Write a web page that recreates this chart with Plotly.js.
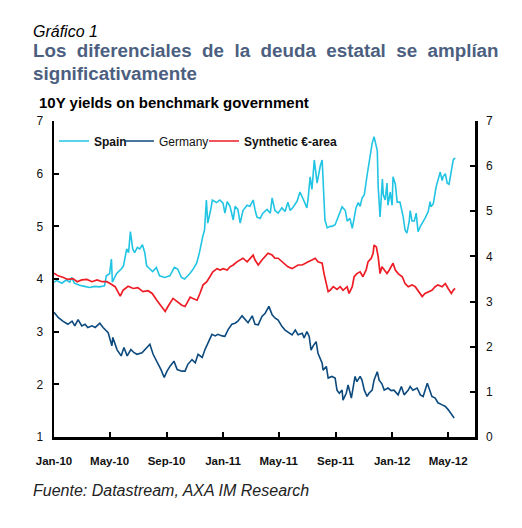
<!DOCTYPE html>
<html>
<head>
<meta charset="utf-8">
<script src="https://cdn.plot.ly/plotly-3.0.1.min.js"></script>
<style>
  html, body { margin: 0; padding: 0; background: #fff; }
  #chart { width: 522px; height: 528px; }
</style>
</head>
<body>
<div id="chart"></div>
<script>
// ---------------- DATA ----------------
const spainDates = [
  "2010-01-01","2010-01-07","2010-01-18","2010-01-27","2010-02-04","2010-02-08","2010-02-14","2010-02-25",
  "2010-03-08","2010-03-19","2010-03-30","2010-04-09","2010-04-20","2010-04-24","2010-05-01","2010-05-05",
  "2010-05-07","2010-05-16","2010-05-27","2010-05-31","2010-06-07","2010-06-11","2010-06-15","2010-06-20",
  "2010-06-24","2010-06-30","2010-07-05","2010-07-11","2010-07-16","2010-07-20","2010-07-26","2010-08-02",
  "2010-08-10","2010-08-17","2010-08-28","2010-09-08","2010-09-18","2010-09-25","2010-10-03","2010-10-10",
  "2010-10-21","2010-10-27","2010-11-05","2010-11-11","2010-11-18","2010-11-22","2010-11-26","2010-11-29",
  "2010-12-05","2010-12-09","2010-12-18","2010-12-25","2011-01-01","2011-01-05","2011-01-10","2011-01-16",
  "2011-01-23","2011-01-27","2011-02-02","2011-02-07","2011-02-13","2011-02-22","2011-02-28","2011-03-07",
  "2011-03-11","2011-03-15","2011-03-22","2011-03-28","2011-04-06","2011-04-13","2011-04-17","2011-04-23",
  "2011-04-30","2011-05-08","2011-05-15","2011-05-21","2011-05-26","2011-06-01","2011-06-10","2011-06-16",
  "2011-06-23","2011-07-01","2011-07-04","2011-07-08","2011-07-12","2011-07-17","2011-07-23","2011-07-30",
  "2011-08-03","2011-08-05","2011-08-09","2011-08-14","2011-08-20","2011-08-24","2011-08-31","2011-09-04",
  "2011-09-09","2011-09-15","2011-09-22","2011-09-26","2011-10-02","2011-10-07","2011-10-11","2011-10-15",
  "2011-10-20","2011-10-24","2011-10-28","2011-11-02","2011-11-08","2011-11-12","2011-11-19","2011-11-23",
  "2011-11-30","2011-12-02","2011-12-06","2011-12-11","2011-12-13","2011-12-17","2011-12-21","2011-12-23",
  "2011-12-28","2012-01-01","2012-01-03","2012-01-08","2012-01-12","2012-01-18","2012-01-25","2012-01-29",
  "2012-02-02","2012-02-07","2012-02-09","2012-02-13","2012-02-18","2012-02-22","2012-02-26","2012-03-02",
  "2012-03-08","2012-03-12","2012-03-19","2012-03-23","2012-03-25","2012-03-30","2012-04-05","2012-04-09",
  "2012-04-14","2012-04-18","2012-04-20","2012-04-25","2012-04-29","2012-05-03","2012-05-08","2012-05-12",
  "2012-05-16"
];
const spainValues = [
  3.94,3.97,3.92,3.98,3.94,4.03,3.92,3.88,
  3.86,3.84,3.86,3.85,3.87,4.06,4.10,4.38,
  3.94,4.10,4.20,4.25,4.57,4.50,4.90,4.57,
  4.50,4.60,4.57,4.65,4.50,4.25,4.20,4.14,
  4.22,4.06,4.03,4.06,4.22,4.19,4.03,4.00,
  4.10,4.17,4.30,4.50,4.80,4.93,5.50,5.06,
  5.30,5.50,5.45,5.50,5.44,5.25,5.47,5.38,
  5.12,5.38,5.32,5.06,5.30,5.40,5.38,5.50,
  5.32,5.18,5.15,5.25,5.32,5.25,5.54,5.30,
  5.25,5.35,5.28,5.46,5.30,5.36,5.48,5.65,
  5.52,5.35,5.55,5.94,5.70,6.26,5.82,6.15,
  6.26,5.80,5.12,4.97,5.00,5.00,5.03,5.12,
  5.22,5.37,5.30,5.10,5.15,4.96,5.15,5.35,
  5.45,5.38,5.53,5.60,5.97,6.22,6.58,6.70,
  6.44,5.75,5.18,5.90,5.60,5.50,5.82,5.40,
  5.65,5.40,5.94,5.80,5.46,5.46,5.18,4.93,
  4.87,5.10,5.30,5.10,5.10,5.25,4.90,5.00,
  5.08,5.15,5.28,5.47,5.37,5.43,5.75,5.90,
  6.03,5.87,5.94,6.00,5.82,5.80,6.03,6.26,
  6.30
];

const germanyDates = [
  "2010-01-01","2010-01-10","2010-01-20","2010-01-31","2010-02-09","2010-02-15","2010-02-22","2010-03-02",
  "2010-03-09","2010-03-15","2010-03-24","2010-03-31","2010-04-10","2010-04-17","2010-04-28","2010-05-06",
  "2010-05-08","2010-05-17","2010-05-26","2010-06-01","2010-06-08","2010-06-16","2010-06-23","2010-06-29",
  "2010-07-10","2010-07-17","2010-07-27","2010-08-03","2010-08-11","2010-08-20","2010-08-27","2010-09-02",
  "2010-09-09","2010-09-17","2010-09-24","2010-10-04","2010-10-11","2010-10-17","2010-10-26","2010-11-02",
  "2010-11-08","2010-11-17","2010-11-23","2010-11-30","2010-12-08","2010-12-15","2010-12-21","2010-12-30",
  "2011-01-05","2011-01-12","2011-01-20","2011-01-27","2011-02-02","2011-02-11","2011-02-18","2011-02-24",
  "2011-03-05","2011-03-11","2011-03-18","2011-03-26","2011-04-02","2011-04-10","2011-04-17","2011-04-23",
  "2011-04-30","2011-05-08","2011-05-15","2011-05-21","2011-05-30","2011-06-06","2011-06-12","2011-06-21",
  "2011-06-25","2011-07-01","2011-07-06","2011-07-10","2011-07-14","2011-07-21","2011-07-25","2011-08-03",
  "2011-08-05","2011-08-12","2011-08-16","2011-08-24","2011-08-31","2011-09-04","2011-09-09","2011-09-15",
  "2011-09-17","2011-09-24","2011-09-28","2011-10-05","2011-10-09","2011-10-13","2011-10-17","2011-10-24",
  "2011-10-28","2011-11-02","2011-11-08","2011-11-12","2011-11-19","2011-11-23","2011-11-30","2011-12-04",
  "2011-12-10","2011-12-15","2011-12-23","2011-12-30","2012-01-05","2012-01-14","2012-01-21","2012-01-27",
  "2012-02-05","2012-02-09","2012-02-15","2012-02-24","2012-03-02","2012-03-08","2012-03-17","2012-03-21",
  "2012-03-27","2012-04-03","2012-04-09","2012-04-18","2012-04-25","2012-05-01","2012-05-10","2012-05-14"
];
const germanyValues = [
  3.37,3.27,3.20,3.14,3.20,3.11,3.23,3.11,
  3.14,3.08,3.11,3.08,3.16,3.08,2.98,2.73,
  2.89,2.66,2.54,2.70,2.54,2.66,2.60,2.57,
  2.60,2.66,2.76,2.57,2.44,2.28,2.13,2.25,
  2.35,2.44,2.28,2.25,2.25,2.38,2.47,2.41,
  2.57,2.51,2.66,2.79,2.95,2.92,2.95,2.92,
  2.91,3.04,3.14,3.16,3.20,3.30,3.23,3.17,
  3.30,3.14,3.13,3.29,3.35,3.48,3.32,3.26,
  3.22,3.10,3.03,3.00,2.94,3.03,2.94,2.97,
  2.88,3.00,2.91,2.65,2.72,2.81,2.59,2.40,
  2.27,2.34,2.12,2.15,2.12,1.89,1.83,1.89,
  1.70,1.83,1.99,1.74,1.96,2.15,2.05,2.15,
  2.08,1.89,1.77,1.83,1.89,2.08,2.24,2.08,
  2.01,1.89,1.93,1.88,1.89,1.80,1.96,1.80,
  1.89,1.96,1.89,1.93,1.80,1.77,2.02,1.93,
  1.77,1.74,1.65,1.61,1.58,1.52,1.42,1.36
];

const euroDates = [
  "2010-01-01","2010-01-10","2010-01-20","2010-01-31","2010-02-11","2010-02-20","2010-03-02","2010-03-13",
  "2010-03-24","2010-04-04","2010-04-15","2010-04-25","2010-05-02","2010-05-13","2010-05-24","2010-05-30",
  "2010-06-10","2010-06-21","2010-07-01","2010-07-12","2010-07-23","2010-08-01","2010-08-11","2010-08-22",
  "2010-08-29","2010-09-04","2010-09-15","2010-09-24","2010-10-04","2010-10-11","2010-10-22","2010-10-28",
  "2010-11-06","2010-11-12","2010-11-19","2010-11-27","2010-12-04","2010-12-10","2010-12-19","2010-12-26",
  "2011-01-01","2011-01-10","2011-01-16","2011-01-23","2011-01-31","2011-02-07","2011-02-13","2011-02-22",
  "2011-02-28","2011-03-07","2011-03-11","2011-03-18","2011-03-26","2011-04-02","2011-04-08","2011-04-17",
  "2011-04-23","2011-04-30","2011-05-08","2011-05-15","2011-05-21","2011-05-30","2011-06-06","2011-06-12",
  "2011-06-21","2011-06-27","2011-07-04","2011-07-12","2011-07-19","2011-07-25","2011-08-03","2011-08-07",
  "2011-08-12","2011-08-16","2011-08-20","2011-08-27","2011-09-04","2011-09-11","2011-09-17","2011-09-26",
  "2011-09-30","2011-10-07","2011-10-11","2011-10-17","2011-10-24","2011-10-30","2011-11-06","2011-11-10",
  "2011-11-17","2011-11-21","2011-11-23","2011-11-28","2011-12-02","2011-12-06","2011-12-10","2011-12-15",
  "2011-12-21","2011-12-26","2012-01-01","2012-01-03","2012-01-08","2012-01-14","2012-01-23","2012-01-29",
  "2012-02-05","2012-02-13","2012-02-20","2012-02-26","2012-03-06","2012-03-12","2012-03-19","2012-03-27",
  "2012-04-03","2012-04-09","2012-04-18","2012-04-25","2012-05-01","2012-05-08","2012-05-12","2012-05-16"
];
const euroValues = [
  3.63,3.57,3.54,3.49,3.51,3.44,3.48,3.49,
  3.44,3.48,3.44,3.44,3.40,3.33,3.12,3.25,
  3.34,3.29,3.31,3.22,3.24,3.18,3.03,2.89,
  2.78,2.89,3.07,3.00,2.92,2.89,3.10,3.07,
  3.03,3.18,3.37,3.44,3.55,3.66,3.73,3.70,
  3.73,3.70,3.77,3.81,3.88,3.92,3.96,3.88,
  3.96,4.03,3.92,3.81,3.92,3.99,4.07,4.03,
  3.96,3.96,3.88,3.81,3.77,3.73,3.77,3.81,
  3.81,3.85,3.88,3.92,3.96,3.88,3.85,3.62,
  3.40,3.22,3.25,3.33,3.27,3.33,3.25,3.33,
  3.18,3.33,3.55,3.62,3.66,3.55,3.70,3.88,
  3.96,4.07,4.25,4.21,3.99,3.62,3.77,3.70,
  3.62,3.70,3.81,3.85,3.70,3.62,3.55,3.40,
  3.33,3.37,3.33,3.25,3.11,3.18,3.22,3.25,
  3.33,3.37,3.33,3.40,3.29,3.18,3.25,3.29
];

const seriesNames = ["<b>Spain</b>", "Germany", "<b>Synthetic €-area</b>"];
const tickDates = ["2010-01-01","2010-05-01","2010-09-01","2011-01-01","2011-05-01","2011-09-01","2012-01-01","2012-05-01"];
const tickLabels = ["Jan-10","May-10","Sep-10","Jan-11","May-11","Sep-11","Jan-12","May-12"];
const leftTicks = [1,2,3,4,5,6,7];
const rightTicks = [0,1,2,3,4,5,6,7];

// ---------------- CHART ----------------
const W = 522, H = 528;
const M = {l: 54, r: 47, t: 121, b: 91};
const pw = W - M.l - M.r, ph = H - M.t - M.b;
const px = x => (x - M.l) / pw;         // pixel -> paper x
const py = y => (H - M.b - y) / ph;     // pixel -> paper y

const FONT = "Liberation Sans, Arial, sans-serif";

const traces = [
  {x: spainDates, y: spainValues, name: seriesNames[0], type: "scatter", mode: "lines",
   line: {color: "#22C4E4", width: 1.6}, yaxis: "y", legend: "legend"},
  {x: germanyDates, y: germanyValues, name: seriesNames[1], type: "scatter", mode: "lines",
   line: {color: "#0C4A7E", width: 1.6}, yaxis: "y", legend: "legend2"},
  {x: euroDates, y: euroValues, name: seriesNames[2], type: "scatter", mode: "lines",
   line: {color: "#EE1C25", width: 1.7}, yaxis: "y2", legend: "legend3"}
];

const axisCommon = {
  showgrid: false, zeroline: false, showline: true, linecolor: "#000", linewidth: 2.5,
  ticks: "inside", ticklen: 5, tickwidth: 2, tickcolor: "#000",
  fixedrange: true
};

const legendBase = (leftPx) => ({
  orientation: "h", x: px(leftPx), xanchor: "left", y: py(141), yanchor: "middle",
  font: {family: FONT, size: 12, color: "#111"}, bgcolor: "rgba(0,0,0,0)",
  itemwidth: 30
});

const layout = {
  width: W, height: H,
  margin: M,
  paper_bgcolor: "#fff", plot_bgcolor: "#fff",
  font: {family: FONT, color: "#000"},
  showlegend: true,
  legend: legendBase(54),
  legend2: legendBase(119),
  legend3: legendBase(204),
  xaxis: Object.assign({}, axisCommon, {
    type: "date", range: ["2010-01-01", "2012-06-28"],
    tickmode: "array", tickvals: tickDates, ticktext: tickLabels,
    tickfont: {family: FONT, size: 11.5, color: "#111", weight: "bold"},
    ticklabelstandoff: 12
  }),
  yaxis: Object.assign({}, axisCommon, {
    range: [1, 7], tickmode: "array", tickvals: leftTicks,
    tickfont: {family: FONT, size: 12, color: "#111"},
    ticklabelstandoff: 6
  }),
  yaxis2: Object.assign({}, axisCommon, {
    range: [0, 7], tickmode: "array", tickvals: rightTicks, overlaying: "y", side: "right",
    tickfont: {family: FONT, size: 12, color: "#111"},
    ticklabelstandoff: 6
  }),
  annotations: [
    {text: "<i>Gráfico 1</i>", xref: "paper", yref: "paper", x: px(31), y: py(31),
     xanchor: "left", yanchor: "middle", showarrow: false,
     font: {family: FONT, size: 16, color: "#000"}},
    {text: "<b>Los\u00a0 diferenciales\u00a0 de\u00a0 la\u00a0 deuda\u00a0 estatal\u00a0 se\u00a0 amplían</b>",
     xref: "paper", yref: "paper", x: px(31), y: py(51),
     xanchor: "left", yanchor: "middle", showarrow: false,
     font: {family: FONT, size: 18.8, color: "#4C5F80"}},
    {text: "<b>significativamente</b>", xref: "paper", yref: "paper", x: px(31), y: py(73),
     xanchor: "left", yanchor: "middle", showarrow: false,
     font: {family: FONT, size: 18.8, color: "#4C5F80"}},
    {text: "<b>10Y yields on benchmark government</b>", xref: "paper", yref: "paper", x: px(37), y: py(103),
     xanchor: "left", yanchor: "middle", showarrow: false,
     font: {family: FONT, size: 15, color: "#000"}},
    {text: "<i>Fuente: Datastream, AXA IM Research</i>", xref: "paper", yref: "paper", x: px(31), y: py(490),
     xanchor: "left", yanchor: "middle", showarrow: false,
     font: {family: FONT, size: 16, color: "#222"}}
  ]
};

Plotly.newPlot("chart", traces, layout, {displayModeBar: false, staticPlot: true});
</script>
</body>
</html>
